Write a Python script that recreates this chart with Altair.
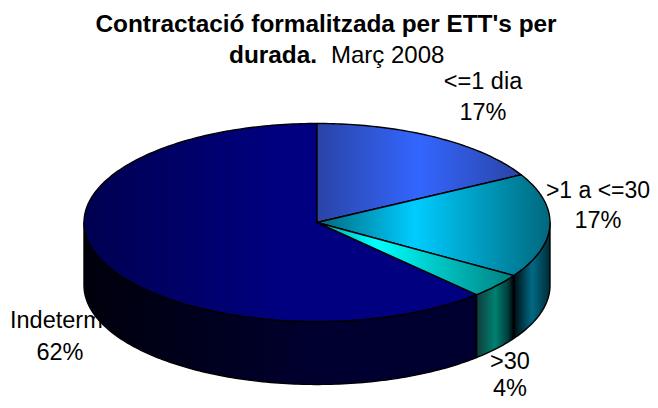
import math
import altair as alt

# ---- data ----
categories = ["<=1 dia", ">1 a <=30", ">30", "Indeterm"]
shares = [17, 17, 4, 62]

# ---- pie geometry (unit radius, squashed) ----
ASPECT = 0.425
DEPTH = 0.27
SCALE = 233
CX, CY = 309, 214.5
FONT = "Liberation Sans"


def pt(a, drop=0.0):
    r = math.radians(a)
    return [round(math.sin(r), 4), round(ASPECT * math.cos(r) - drop, 4)]


def arc(a0, a1, drop=0.0):
    n = max(2, int(abs(a1 - a0)) + 1)
    return [pt(a0 + (a1 - a0) * i / n, drop) for i in range(n + 1)]


def feature(ring):
    ring = ring + [ring[0]]
    return {"type": "Feature", "properties": {},
            "geometry": {"type": "Polygon", "coordinates": [ring]}}


def top(a0, a1):
    return feature([[0, 0]] + arc(a0, a1))


def side(a0, a1):
    return feature(arc(a0, a1) + arc(a1, a0, DEPTH))


def grad(*stops):
    return alt.Gradient(gradient="linear", x1=0, x2=1, y1=0, y2=0,
                        stops=[alt.GradientStop(offset=o, color=c) for o, c in stops])


proj = alt.Projection(type="identity", reflectY=True, scale=SCALE, translate=[CX, CY])


def shape(feat, fill):
    return alt.Chart(alt.InlineData(values=[feat])).mark_geoshape(
        fill=fill, stroke="#000000", strokeWidth=1.4, strokeJoin="round"
    ).project(**proj.to_dict())


edges = [0]
for s in shares:
    edges.append(edges[-1] + s * 3.6)

top_fills = [
    grad((0, "#2a44a6"), (0.5, "#3366ff"), (1, "#2a44a6")),
    grad((0, "#00687c"), (0.42, "#00ccff"), (1, "#00687c")),
    grad((0, "#00a8a8"), (0.3, "#00ffff"), (1, "#007f7f")),
    grad((0, "#000050"), (0.5, "#000080"), (1, "#000080")),
]

sides = [
    shape(side(90, edges[2]), grad((0, "#000a10"), (0.5, "#006a84"), (1, "#002c38"))),
    shape(side(edges[2], edges[3]), grad((0, "#103c3c"), (0.5, "#008070"), (0.85, "#003c3c"), (1, "#000000"))),
    shape(side(edges[3], 270), grad((0, "#00000c"), (0.6, "#000030"), (1, "#000030"))),
]
tops = [shape(top(edges[i], edges[i + 1]), top_fills[i]) for i in [3, 0, 1, 2]]


def label(txt, x, y, size=23.5, weight="normal", align="center"):
    return alt.Chart(alt.InlineData(values=[{"t": txt}])).mark_text(
        font=FONT, fontSize=size, fontWeight=weight, align=align,
        baseline="alphabetic", color="#000000"
    ).encode(text="t:N", x=alt.value(x - 8), y=alt.value(y - 8))


title_marks = [
    label("Contractació formalitzada per ETT's per", 326, 32, size=24.4, weight="bold"),
    label("durada.", 229, 63, size=24.4, weight="bold", align="left"),
    label("Març 2008", 331, 63, size=24, align="left"),
]
under = [
    label(categories[3], 10, 328, align="left"),
    label(f"{shares[3]}%", 60, 360),
]
over = [
    label(categories[0], 483, 89),
    label(f"{shares[0]}%", 483, 120),
    label(categories[1], 598, 198, size=23),
    label(f"{shares[1]}%", 598, 228),
    label(categories[2], 510, 369),
    label(f"{shares[2]}%", 510, 396),
]

chart = alt.layer(*under, *sides, *tops, *over, *title_marks).properties(
    width=642, height=392, padding=0,
    autosize=alt.AutoSizeParams(type="none"), background="#ffffff",
).configure_view(stroke=None)

chart.save("out.html", embed_options={"renderer": "svg", "actions": False})
